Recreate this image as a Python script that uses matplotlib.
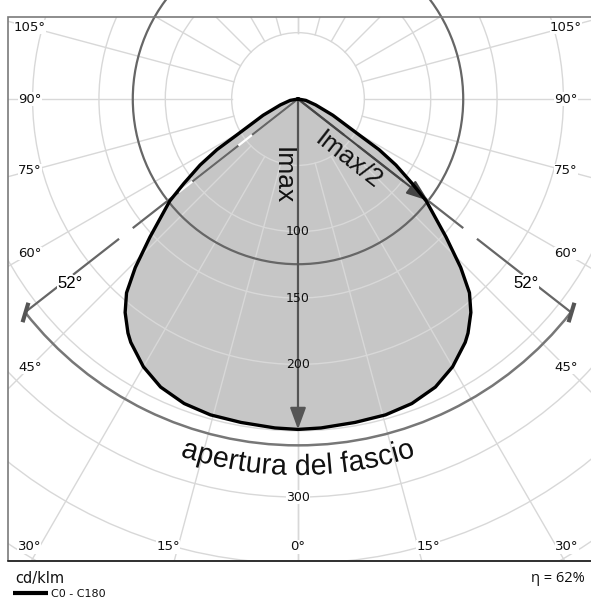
import numpy as np
import matplotlib
matplotlib.use('Agg')
import matplotlib.pyplot as plt
from matplotlib.patches import Rectangle, Circle, Arc, PathPatch
from matplotlib.textpath import TextPath
from matplotlib.font_manager import FontProperties
from matplotlib.path import Path

# intensity in the C0 - C180 plane (cd/klm), symmetric
gamma = [0, 4, 10, 15.5, 20.5, 25.5, 30, 34.5, 36, 39, 41.5, 44, 47, 51.5,
         53.5, 56, 58, 59.5, 61.5, 65, 71.5, 80, 90]
intensity = [249, 248.5, 247.5, 247, 245, 240.5, 233, 222.5, 218, 207, 195, 176.5,
             152.5, 123.5, 107, 89, 72, 54, 41, 29, 14, 6, 0]

grid_radii = [50, 100, 150, 200, 250, 300, 350, 400]
grid_angles = list(range(0, 181, 15))
radius_labels = [100, 150, 200, 300]
side_labels = [105, 90, 75, 60, 45]
bottom_labels = [-30, -15, 0, 15, 30]
beam_angle = 52
eta = 62

plt.rcParams['lines.scale_dashes'] = False

S = 1.327          # pixels per cd/klm
CX, CY = 298, 99   # pole position in pixels
W, H = 591, 602


def px(n):
    return n / S


def pix(x, y):
    # pixel position -> data position
    return (x - CX) / S, (CY - y) / S


def ray(a, r):
    t = np.radians(a)
    return r * np.sin(t), -r * np.cos(t)


fig = plt.figure(figsize=(W / 100, H / 100), dpi=100)
ax = fig.add_axes([0, 0, 1, 1])
ax.set_xlim(-CX / S, (W - CX) / S)
ax.set_ylim(-(H - CY) / S, CY / S)
ax.axis('off')

# frame
fx0, fy0 = pix(8, 561)
frame = Rectangle((fx0, fy0), px(600 - 8), px(561 - 17), fill=False,
                  ec='#7a7a7a', lw=1.2, zorder=8)
ax.add_patch(frame)
ax.plot([fx0, fx0 + px(600)], [fy0, fy0], color='#222222', lw=1.2, zorder=8)
clip = Rectangle((fx0, fy0), px(600 - 8), px(561 - 17), transform=ax.transData)

# curve
g = np.array(gamma, dtype=float)
I = np.array(intensity, dtype=float)
ang = np.concatenate([-g[::-1], g[1:]])
val = np.concatenate([I[::-1], I[1:]])
cx, cy = ray(ang, val)
ax.fill(cx, cy, color='#c6c6c6', lw=0, zorder=1)

# grid
for r in grid_radii:
    c = Circle((0, 0), r, fill=False, ec='#d8d8d8', lw=1.0, zorder=2)
    ax.add_patch(c)
    c.set_clip_path(clip)
for a in grid_angles:
    for sgn in (-1, 1):
        x0, y0 = ray(sgn * a, 50)
        x1, y1 = ray(sgn * a, 500)
        ln, = ax.plot([x0, x1], [y0, y1], color='#d8d8d8', lw=1.0, zorder=2)
        ln.set_clip_path(clip)

ax.plot(cx, cy, color='black', lw=2.4, zorder=6, solid_joinstyle='round')

imax = I.max()
half = imax / 2
ax.add_patch(Circle((0, 0), half, fill=False, ec='#666666', lw=1.6, zorder=4, clip_on=False))

# beam lines and arc
arc_r = 261
for sgn in (-1, 1):
    ex, ey = ray(sgn * beam_angle, arc_r)
    ax.plot([0, ex], [0, ey], color='white', lw=1.6, zorder=4)
    ax.plot([0, ex], [0, ey], color='#666666', lw=1.6, zorder=4,
            dashes=(42, 12.5), solid_capstyle='butt', dash_capstyle='butt')
    ax.plot(ex, ey, marker=[(-0.3, -1), (0.3, 1)], ms=14, mew=3,
            color='#555555', zorder=7)
    lx, ly = ray(sgn * beam_angle, 218)
    ax.text(lx, ly - px(6), '52°', fontsize=12, family='Liberation Sans',
            ha='center', va='center', zorder=7,
            bbox=dict(fc='white', ec='none', pad=0.5))
ax.add_patch(Arc((0, 0), 2 * arc_r, 2 * arc_r, theta1=-90 - beam_angle,
                 theta2=-90 + beam_angle, color='#777777', lw=1.8, zorder=4))

# Imax and Imax/2 arrows
head = '-|>,head_length=0.6,head_width=0.22'
ax.annotate('', xy=(0, -imax), xytext=(0, 0), zorder=5,
            arrowprops=dict(arrowstyle=head, color='#555555', lw=1.6,
                            mutation_scale=22, shrinkA=0, shrinkB=0))
hx, hy = ray(beam_angle, half)
ax.annotate('', xy=(hx, hy), xytext=(0, 0), zorder=5,
            arrowprops=dict(arrowstyle=head, color='#444444', lw=1.6,
                            mutation_scale=22, shrinkA=0, shrinkB=0))

ax.text(*pix(283, 176), 'Imax', rotation=-90, fontsize=19, family='Liberation Sans',
        ha='center', va='center', color='#111111', zorder=7)
tilt = np.degrees(np.arctan2(np.cos(np.radians(beam_angle)), np.sin(np.radians(beam_angle))))
ax.text(*pix(348, 160), 'Imax/2', rotation=-tilt, fontsize=18.5, family='Liberation Sans',
        ha='center', va='center', color='#111111', zorder=7, rotation_mode='anchor')

# curved caption under the arc
fp = FontProperties(family='Liberation Sans')
tp = TextPath((0, 0), 'apertura del fascio', size=px(21 * 100 / 72), prop=fp)
v = tp.vertices.copy()
ext = tp.get_extents()
rb = px(376)
phi = (v[:, 0] - (ext.x0 + ext.x1) / 2) / rb
rr = rb - v[:, 1]
bent = np.column_stack([rr * np.sin(phi), -rr * np.cos(phi)])
ax.add_patch(PathPatch(Path(bent, tp.codes), fc='#111111', ec='none', zorder=7))

# radius labels
for r in radius_labels:
    bb = dict(fc='white', ec='none', pad=0.3) if r > imax else None
    ax.text(0, -r, str(r), fontsize=9, family='DejaVu Sans', ha='center',
            va='center', color='#111111', zorder=7, bbox=bb)

# angle labels along the frame
lab_bb = dict(fc='white', ec='none', pad=0.2)
for a in side_labels:
    for sgn in (-1, 1):
        xl = px(268) * sgn
        t = np.radians(a)
        yl = -np.cos(t) * abs(xl) / np.sin(t)
        ax.text(xl, yl, f'{a}°', fontsize=9.5, family='DejaVu Sans', ha='center',
                va='center', color='#111111', zorder=9, bbox=lab_bb)
for a in bottom_labels:
    yl = -px(448)
    t = np.radians(a)
    xl = np.tan(t) * abs(yl) + np.sign(a) * px(10)
    ax.text(xl, yl, f'{abs(a)}°', fontsize=9.5, family='DejaVu Sans', ha='center',
            va='center', color='#111111', zorder=9, bbox=lab_bb)

# footer
fig.text(15 / W, 1 - 578 / H, 'cd/klm', fontsize=10.5, family='DejaVu Sans',
         ha='left', va='center', color='#111111')
lx0, ly0 = pix(13, 593)
lx1, _ = pix(48, 593)
ax.plot([lx0, lx1], [ly0, ly0], color='black', lw=3, solid_capstyle='butt', clip_on=False)
fig.text(51 / W, 1 - 594 / H, 'C0 - C180', fontsize=8, family='DejaVu Sans',
         ha='left', va='center', color='#111111')
fig.text(585 / W, 1 - 578 / H, f'η = {eta}%', fontsize=10.5, family='Open Sans',
         ha='right', va='center', color='#111111')

fig.savefig('out.png', dpi=100)
